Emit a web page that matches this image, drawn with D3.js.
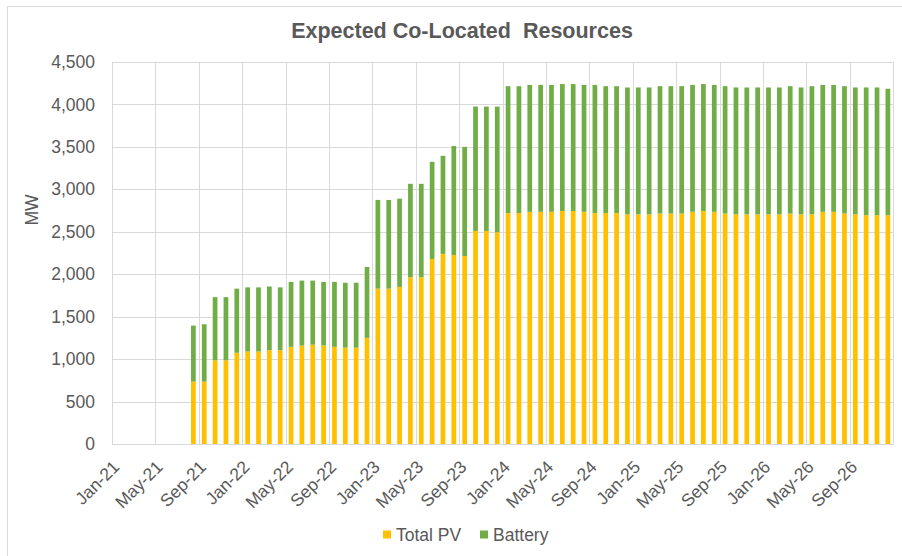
<!DOCTYPE html>
<html>
<head>
<meta charset="utf-8">
<script src="https://cdn.jsdelivr.net/npm/d3@7"></script>
<style>
  html, body { margin: 0; padding: 0; background: #fff; }
  svg { display: block; font-family: "Liberation Sans", Arial, sans-serif; }
</style>
</head>
<body>
<svg id="chart" width="902" height="556"></svg>
<script>
const months = [
  "Jan-21","Feb-21","Mar-21","Apr-21","May-21","Jun-21","Jul-21","Aug-21","Sep-21","Oct-21","Nov-21","Dec-21",
  "Jan-22","Feb-22","Mar-22","Apr-22","May-22","Jun-22","Jul-22","Aug-22","Sep-22","Oct-22","Nov-22","Dec-22",
  "Jan-23","Feb-23","Mar-23","Apr-23","May-23","Jun-23","Jul-23","Aug-23","Sep-23","Oct-23","Nov-23","Dec-23",
  "Jan-24","Feb-24","Mar-24","Apr-24","May-24","Jun-24","Jul-24","Aug-24","Sep-24","Oct-24","Nov-24","Dec-24",
  "Jan-25","Feb-25","Mar-25","Apr-25","May-25","Jun-25","Jul-25","Aug-25","Sep-25","Oct-25","Nov-25","Dec-25",
  "Jan-26","Feb-26","Mar-26","Apr-26","May-26","Jun-26","Jul-26","Aug-26","Sep-26","Oct-26","Nov-26","Dec-26"
];
const totalPV = [
  0,0,0,0,0,0,0,735,735,985,985,1075,
  1090,1090,1105,1105,1145,1160,1170,1160,1145,1135,1135,1250,
  1830,1830,1850,1965,1965,2180,2240,2225,2215,2510,2510,2495,
  2720,2720,2735,2735,2735,2745,2745,2735,2720,2720,2720,2705,
  2705,2705,2715,2715,2715,2735,2745,2735,2715,2705,2705,2705,
  2705,2705,2715,2705,2705,2735,2735,2715,2705,2695,2695,2695
];
const battery = [
  0,0,0,0,0,0,0,660,675,745,745,755,
  755,755,750,740,765,765,755,750,765,765,765,835,
  1045,1045,1040,1100,1100,1145,1155,1285,1285,1465,1465,1480,
  1495,1495,1495,1495,1495,1495,1495,1495,1510,1495,1495,1495,
  1495,1495,1500,1500,1500,1495,1495,1495,1500,1495,1495,1495,
  1495,1495,1500,1495,1510,1495,1495,1500,1495,1505,1505,1490
];
const yTicks = [0,500,1000,1500,2000,2500,3000,3500,4000,4500];
const seriesNames = ["Total PV","Battery"];
const seriesColors = ["#FFC000","#70AD47"];
const titleText = "Expected Co-Located  Resources";
const yAxisTitle = "MW";
const labelEvery = 4;

const svg = d3.select("#chart");
const W = 902, H = 556;
const plot = {left: 112, right: 893.3, top: 62, bottom: 444};
const textColor = "#595959";
const gridColor = "#D9D9D9";

// outer chart border
svg.append("rect").attr("x", 7.5).attr("y", 6.5).attr("width", W).attr("height", H)
  .attr("fill", "none").attr("stroke", "#D9D9D9").attr("stroke-width", 1);

const x = d3.scaleBand().domain(months).range([plot.left, plot.right])
  .paddingInner(0.565).paddingOuter(0.2825);
const y = d3.scaleLinear().domain([0, 4500]).range([plot.bottom, plot.top]);
const step = x.step();

// horizontal gridlines
svg.append("g").selectAll("line").data(yTicks).join("line")
  .attr("x1", plot.left).attr("x2", plot.right)
  .attr("y1", d => Math.round(y(d)) + 0.5).attr("y2", d => Math.round(y(d)) + 0.5)
  .attr("stroke", gridColor).attr("stroke-width", 1);

// vertical gridlines at category boundaries every 4 months (plus right edge)
const vIdx = d3.range(0, months.length + 1, labelEvery);
svg.append("g").selectAll("line").data(vIdx).join("line")
  .attr("x1", i => Math.round(plot.left + i * step) + 0.5)
  .attr("x2", i => Math.round(plot.left + i * step) + 0.5)
  .attr("y1", plot.top).attr("y2", plot.bottom)
  .attr("stroke", gridColor).attr("stroke-width", 1);

// stacked bars
const rows = months.map((m, i) => ({month: m, pv: totalPV[i], bat: battery[i]}));
const stack = d3.stack().keys(["pv","bat"]);
const stacked = stack(rows);
svg.append("g").selectAll("g").data(stacked).join("g")
  .attr("fill", (d, i) => seriesColors[i])
  .selectAll("rect").data(d => d).join("rect")
  .attr("x", d => x(d.data.month))
  .attr("width", x.bandwidth())
  .attr("y", d => y(d[1]))
  .attr("height", d => Math.max(0, y(d[0]) - y(d[1])));

// y axis labels
svg.append("g").selectAll("text").data(yTicks).join("text")
  .attr("x", 95).attr("y", d => y(d)).attr("dy", "0.35em")
  .attr("text-anchor", "end").attr("fill", textColor)
  .attr("font-size", "17.5px")
  .text(d => d3.format(",")(d));

// x axis labels
const xLabels = months.filter((m, i) => i % labelEvery === 0);
svg.append("g").selectAll("text").data(xLabels).join("text")
  .attr("transform", d => `translate(${x(d) + x.bandwidth() / 2 + 3},${468}) rotate(-45)`)
  .attr("text-anchor", "end").attr("fill", textColor)
  .attr("font-size", "17.5px")
  .text(d => d);

// y axis title
svg.append("text")
  .attr("transform", "translate(38,210) rotate(-90)")
  .attr("text-anchor", "middle").attr("fill", textColor)
  .attr("font-size", "17.5px").text(yAxisTitle);

// title
svg.append("text").attr("x", 462).attr("y", 38)
  .attr("text-anchor", "middle").attr("fill", textColor)
  .attr("font-size", "21.5px").attr("font-weight", "bold")
  .style("white-space", "pre").attr("xml:space", "preserve")
  .text(titleText);

// legend
const legendItems = [{name: seriesNames[0], color: seriesColors[0], x: 383},
                     {name: seriesNames[1], color: seriesColors[1], x: 480}];
const lg = svg.append("g").selectAll("g").data(legendItems).join("g")
  .attr("transform", d => `translate(${d.x},0)`);
lg.append("rect").attr("x", 0).attr("y", 530.5).attr("width", 8).attr("height", 8)
  .attr("fill", d => d.color);
lg.append("text").attr("x", 13).attr("y", 541).attr("fill", textColor)
  .attr("font-size", "17.5px").text(d => d.name);
</script>
</body>
</html>
